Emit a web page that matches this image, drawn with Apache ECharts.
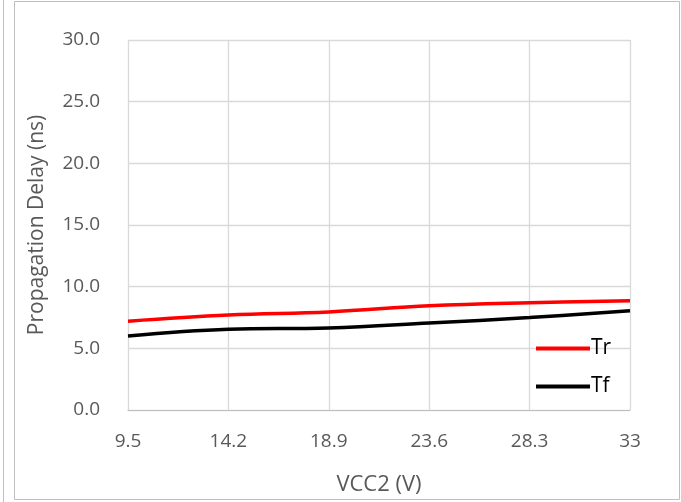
<!DOCTYPE html>
<html><head><meta charset="utf-8">
<script src="https://cdn.jsdelivr.net/npm/echarts@6/dist/echarts.min.js"></script>
<style>html,body{margin:0;padding:0;background:#fff}#c{width:681px;height:502px}</style>
</head><body><div id="c"></div>
<script>
const categories = ['9.5','14.2','18.9','23.6','28.3','33'];
const trValues = [7.2, 7.7, 7.95, 8.45, 8.7, 8.85];
const tfValues = [6.0, 6.55, 6.65, 7.05, 7.5, 8.05];
const yTicks = [0, 5, 10, 15, 20, 25, 30];

const chart = echarts.init(document.getElementById('c'));
const font = 'Open Sans, Noto Sans, sans-serif';
chart.setOption({
  animation: false,
  backgroundColor: '#fff',
  graphic: [
    {type:'rect', shape:{x:14.5,y:1.5,width:665,height:498}, style:{fill:'none', stroke:'#bfbfbf', lineWidth:1}},
    {type:'line', shape:{x1:3.5,y1:0,x2:3.5,y2:502}, style:{stroke:'#bfbfbf', lineWidth:1}}
  ],
  grid: {left:128, right:51, top:40, bottom:92},
  legend: {
    orient:'vertical', left:531, top:333, itemGap:17,
    itemWidth:54, itemHeight:4, icon:'rect',
    textStyle:{fontFamily:font, fontSize:21, color:'#000', padding:[0,0,0,-4]},
    data:['Tr','Tf']
  },
  xAxis: {
    type:'category', data:categories, boundaryGap:false,
    name:'VCC2 (V)', nameLocation:'middle', nameGap:64,
    nameTextStyle:{fontFamily:font, fontSize:22, color:'#595959'},
    axisLine:{lineStyle:{color:'#bfbfbf', width:1}},
    axisTick:{show:false},
    axisLabel:{fontFamily:font, fontSize:19, color:'#595959', margin:22},
    splitLine:{show:true, lineStyle:{color:'#d9d9d9', width:1.3}}
  },
  yAxis: {
    type:'value', min:yTicks[0], max:yTicks[yTicks.length-1], interval:5,
    name:'Propagation Delay (ns)', nameLocation:'middle', nameGap:80,
    nameTextStyle:{fontFamily:font, fontSize:21, color:'#595959'},
    axisLine:{show:false}, axisTick:{show:false},
    axisLabel:{fontFamily:font, fontSize:19, color:'#595959', margin:28,
      formatter:v=>v.toFixed(1)},
    splitLine:{lineStyle:{color:'#d9d9d9', width:1.3}}
  },
  series: [
    {name:'Tr', type:'line', data:trValues, smooth:0.4, symbol:'none',
     lineStyle:{color:'#ff0000', width:3.5}, itemStyle:{color:'#ff0000'}},
    {name:'Tf', type:'line', data:tfValues, smooth:0.4, symbol:'none',
     lineStyle:{color:'#000000', width:3.5}, itemStyle:{color:'#000000'}}
  ]
});
</script></body></html>
